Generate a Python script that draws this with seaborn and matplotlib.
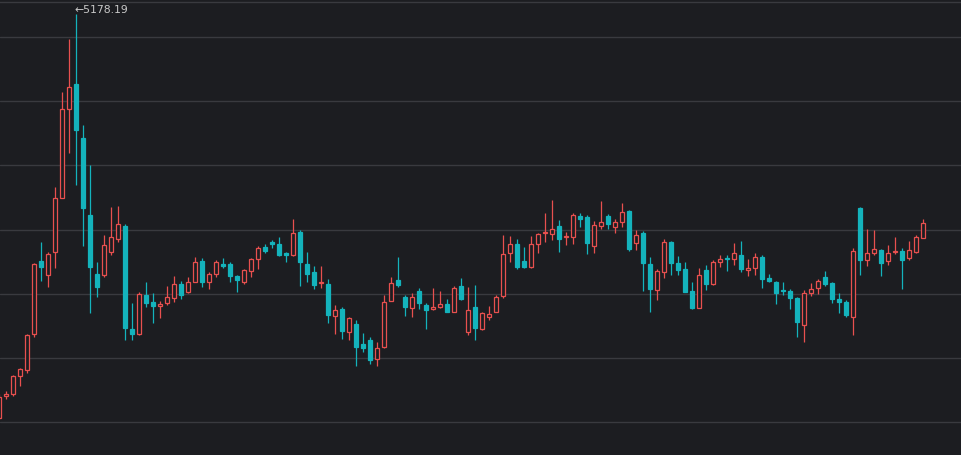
import pandas as pd
import numpy as np
import matplotlib
matplotlib.use('Agg')
import matplotlib.pyplot as plt
import seaborn as sns

# Monthly candles, Jul 2014 .. Jul 2025
months = pd.period_range('2014-07', '2025-07', freq='M').astype(str).tolist()

opens = [2035, 2200, 2215, 2355, 2405, 2683, 3258, 3148, 3322, 3748, 4440, 4634,
         4210, 3613, 3157, 3148, 3327, 3426, 3529, 2725, 2688, 2990, 2937, 2905,
         2925, 2964, 3075, 3011, 3093, 3254, 3093, 3154, 3231, 3231, 3138, 3093,
         3179, 3268, 3366, 3400, 3387, 3314, 3301, 3478, 3229, 3166, 3080, 3075,
         2828, 2878, 2704, 2764, 2608, 2639, 2490, 2587, 2945, 3107, 2975, 2891,
         3023, 2912, 2878, 2894, 2917, 2860, 3060, 2704, 2894, 2725, 2816, 2860,
         2985, 3319, 3387, 3254, 3210, 3384, 3470, 3465, 3527, 3440, 3439, 3607,
         3600, 3371, 3529, 3607, 3522, 3556, 3645, 3397, 3470, 3231, 3028, 3171,
         3400, 3241, 3192, 3023, 2891, 3184, 3075, 3249, 3275, 3268, 3301, 3184,
         3197, 3283, 3119, 3088, 3030, 3023, 2964, 2756, 3003, 3042, 3127, 3081,
         2958, 2937, 2821, 3665, 3262, 3319, 3340, 3257, 3327, 3332, 3280, 3327,
         3436]
highs = [2215, 2244, 2365, 2420, 2688, 3239, 3406, 3325, 3835, 4574, 4986, 5178.19,
         4318, 4006, 3250, 3455, 3678, 3686, 3539, 2930, 3015, 3089, 3005, 2945,
         3060, 3138, 3099, 3127, 3288, 3280, 3172, 3262, 3275, 3244, 3144, 3192,
         3275, 3371, 3387, 3418, 3444, 3327, 3581, 3496, 3327, 3217, 3218, 3114,
         2912, 2894, 2821, 2794, 2696, 2660, 2621, 2990, 3129, 3288, 2990, 3003,
         3042, 2925, 3042, 3023, 2960, 3063, 3120, 3054, 3070, 2860, 2904, 2990,
         3458, 3449, 3426, 3366, 3449, 3474, 3626, 3730, 3574, 3481, 3626, 3626,
         3610, 3567, 3722, 3620, 3580, 3709, 3650, 3500, 3490, 3288, 3196, 3425,
         3413, 3296, 3247, 3093, 3200, 3223, 3265, 3301, 3305, 3393, 3410, 3270,
         3319, 3305, 3150, 3100, 3093, 3040, 2976, 3029, 3085, 3113, 3174, 3089,
         3003, 2951, 3353, 3674, 3504, 3496, 3351, 3380, 3440, 3358, 3410, 3455,
         3580]
lows = [2020, 2176, 2205, 2278, 2385, 2665, 3095, 3049, 3198, 3743, 4099, 3848,
        3373, 2850, 2976, 3132, 3301, 3405, 2638, 2638, 2680, 2898, 2771, 2807,
        2915, 2937, 2958, 3003, 3088, 3054, 3035, 3127, 3198, 3093, 3016, 3075,
        3127, 3192, 3319, 3353, 3294, 3249, 3295, 3060, 3091, 3035, 3042, 2769,
        2686, 2647, 2639, 2439, 2548, 2452, 2436, 2580, 2940, 3049, 2826, 2821,
        2880, 2722, 2870, 2891, 2857, 2857, 2950, 2678, 2636, 2720, 2795, 2855,
        2970, 3250, 3190, 3200, 3200, 3320, 3400, 3420, 3327, 3380, 3390, 3520,
        3312, 3320, 3501, 3501, 3470, 3520, 3330, 3340, 3023, 2860, 2950, 3124,
        3145, 3145, 3016, 2880, 2885, 3028, 3070, 3210, 3180, 3225, 3170, 3140,
        3145, 3045, 3088, 2923, 2986, 2882, 2666, 2626, 2980, 2998, 3060, 2930,
        2847, 2815, 2678, 3145, 3216, 3300, 3138, 3220, 3310, 3036, 3266, 3320,
        3430]
closes = [2198, 2217, 2360, 2412, 2678, 3234, 3210, 3310, 3748, 4442, 4612, 4277,
          3664, 3206, 3053, 3383, 3439, 3539, 2730, 2688, 2995, 2930, 2904, 2916,
          2972, 3075, 2990, 3093, 3244, 3093, 3154, 3244, 3218, 3138, 3107, 3184,
          3268, 3353, 3335, 3384, 3301, 3301, 3470, 3249, 3154, 3070, 3093, 2834,
          2873, 2711, 2813, 2587, 2580, 2480, 2574, 2933, 3081, 3068, 2898, 2972,
          2925, 2873, 2899, 2917, 2860, 3042, 2958, 2873, 2730, 2850, 2841, 2972,
          3310, 3387, 3205, 3210, 3387, 3465, 3480, 3501, 3426, 3446, 3613, 3582,
          3392, 3535, 3561, 3540, 3561, 3634, 3348, 3457, 3241, 3036, 3179, 3400,
          3241, 3184, 3016, 2888, 3145, 3075, 3249, 3270, 3268, 3319, 3192, 3197,
          3283, 3111, 3101, 3007, 3022, 2964, 2777, 3003, 3034, 3101, 3075, 2956,
          2933, 2830, 3332, 3262, 3314, 3346, 3241, 3314, 3336, 3262, 3340, 3444,
          3553]

df = pd.DataFrame({'month': months, 'open': opens, 'high': highs,
                   'low': lows, 'close': closes})
df['x'] = np.arange(len(df))
df['up'] = df['close'] >= df['open']

bg = '#1c1d21'
grid = '#393a3f'
up_col = '#e8504f'
down_col = '#14b3bc'

sns.set_theme(style='dark', rc={'figure.facecolor': bg, 'axes.facecolor': bg,
                                'axes.grid': False})

fig = plt.figure(figsize=(9.61, 4.55), dpi=100)
ax = fig.add_axes([0, 0, 1, 453 / 455])

for y in range(2000, 5001, 500):
    ax.axhline(y, color=grid, lw=1, zorder=1)

cols = np.where(df['up'], up_col, down_col)
ax.vlines(df['x'], df['low'], df['high'], colors=cols, lw=0.9, zorder=2)

body_lo = df[['open', 'close']].min(axis=1)
body_h = (df['close'] - df['open']).abs().clip(lower=2)
faces = np.where(df['up'], bg, down_col)
ax.bar(df['x'], body_h, bottom=body_lo, width=0.66, color=faces,
       edgecolor=cols, linewidth=0.9, zorder=3)

# max marker label
imax = df['high'].idxmax()
ax.annotate('\u2190' + f"{df.loc[imax, 'high']:.2f}", (df.loc[imax, 'x'], df.loc[imax, 'high']),
            xytext=(-1, 3), textcoords='offset points', ha='left', va='center',
            color='#c8c8c8', fontsize=7.8, family=['DejaVu Sans'])

ax.set_xlim(1 / 7, 962 / 7)
ax.set_ylim(1742.9, 5272.7)
ax.set_xticks([])
ax.set_yticks([])
for s in ['left', 'right', 'bottom']:
    ax.spines[s].set_visible(False)
ax.spines['top'].set_color(grid)
ax.spines['top'].set_linewidth(1)

fig.savefig('out.png', dpi=100, facecolor=bg)
